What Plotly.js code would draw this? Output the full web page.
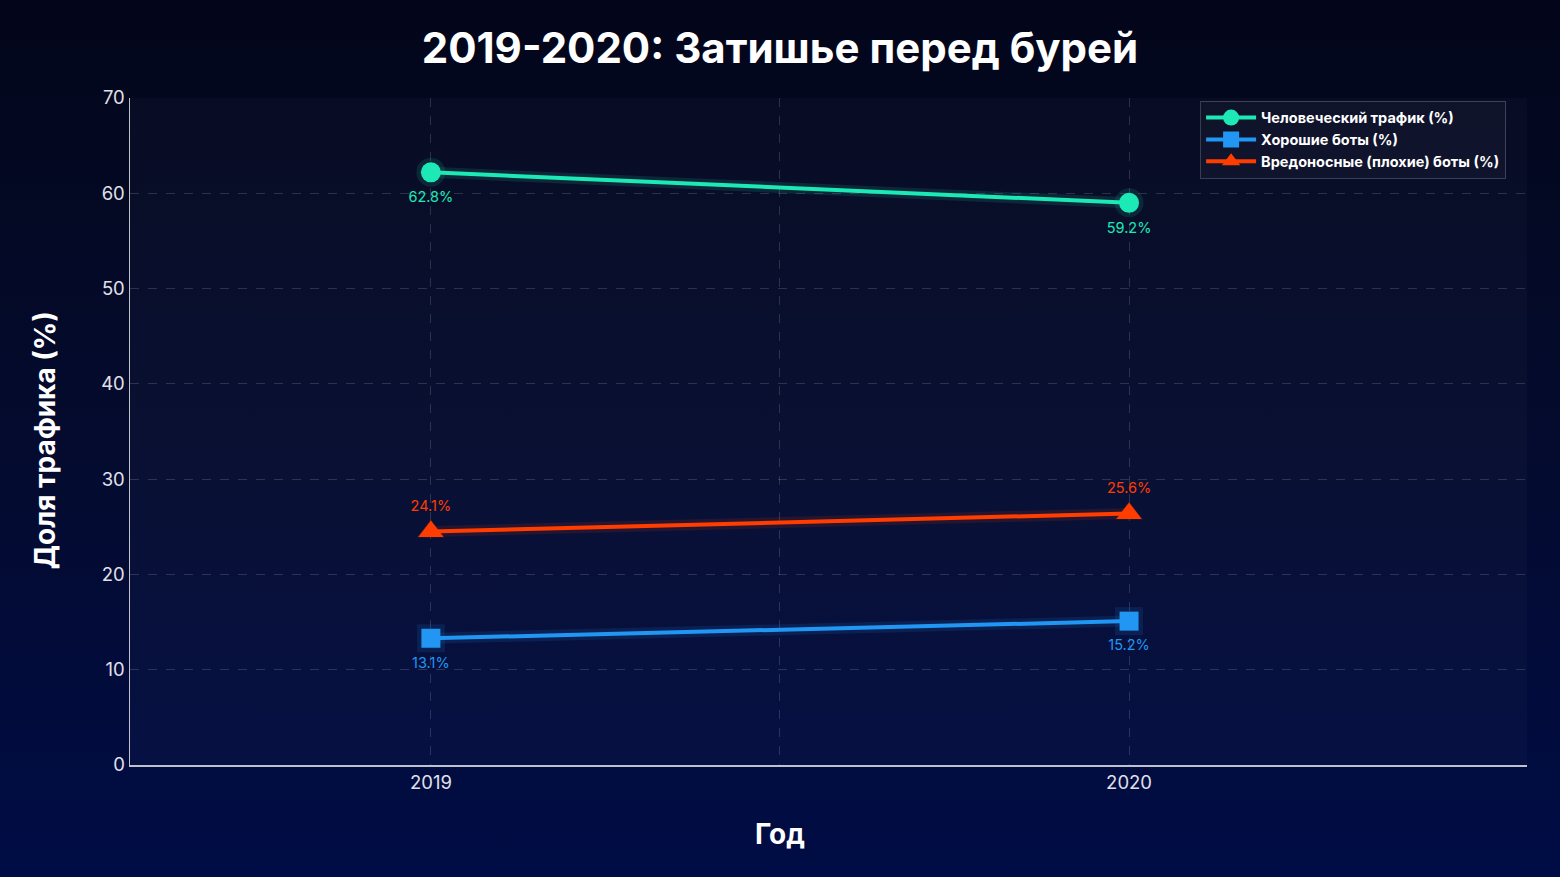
<!DOCTYPE html>
<html>
<head>
<meta charset="utf-8">
<script src="https://cdn.plot.ly/plotly-3.0.1.min.js"></script>
<style>
html,body{margin:0;padding:0;width:1560px;height:877px;overflow:hidden;
background:linear-gradient(180deg,#03061a 0%,#040b2e 50%,#000c45 100%);}
#chart{width:1560px;height:877px;}
</style>
</head>
<body>
<div id="chart"></div>
<script>
const years = [2019, 2020];
const seriesNames = ['Человеческий трафик (%)', 'Хорошие боты (%)', 'Вредоносные (плохие) боты (%)'];
const humanValues = [62.2, 59.0];
const goodBotValues = [13.3, 15.1];
const badBotValues = [24.5, 26.4];
const humanLabels = ['62.8%', '59.2%'];
const goodBotLabels = ['13.1%', '15.2%'];
const badBotLabels = ['24.1%', '25.6%'];
const xTickVals = [2019, 2019.5, 2020];
const xTickText = ['2019', '', '2020'];
const yTickVals = [0, 10, 20, 30, 40, 50, 60, 70];

const colors = ['#1de9b6', '#2196f3', '#ff3d00'];
const font = 'Inter, "Noto Sans", sans-serif';

function mk(name, y, color, symbol, size) {
  return {
    x: years, y: y, name: name, type: 'scatter', mode: 'lines+markers',
    line: {color: color, width: 4},
    marker: {color: color, size: size, symbol: symbol},
    cliponaxis: false
  };
}
function glow(y, labels, color, glowColor, size, symbol, pos) {
  return {x: years, y: y, type: 'scatter', mode: 'lines+markers+text', showlegend: false, hoverinfo: 'skip',
    text: labels, textposition: pos,
    textfont: {family: font, size: 14.5, color: color},
    line: {color: glowColor, width: 11}, marker: {color: glowColor, size: size, symbol: symbol}, cliponaxis: false};
}

const data = [
  glow(humanValues, humanLabels, colors[0], 'rgba(29,233,182,0.12)', 29, 'circle', 'bottom center'),
  glow(goodBotValues, goodBotLabels, colors[1], 'rgba(33,150,243,0.12)', 28, 'square', 'bottom center'),
  glow(badBotValues, badBotLabels, colors[2], 'rgba(255,61,0,0.12)', 25, 'triangle-up', 'top center'),
  mk(seriesNames[0], humanValues, colors[0], 'circle', 20),
  mk(seriesNames[1], goodBotValues, colors[1], 'square', 19),
  mk(seriesNames[2], badBotValues, colors[2], 'triangle-up', 22)
];

const layout = {
  width: 1560, height: 877,
  paper_bgcolor: 'rgba(0,0,0,0)',
  plot_bgcolor: 'rgba(255,255,255,0.025)',
  margin: {l: 130, r: 33, t: 98, b: 112},
  title: {text: '<b>2019-2020: Затишье перед бурей</b>', x: 0.5, xanchor: 'center', y: 0.945, yanchor: 'middle',
    font: {family: font, size: 42, color: '#ffffff'}},
  font: {family: font, color: '#e6e6ee'},
  xaxis: {
    range: [2018.569, 2020.57], tickvals: xTickVals, ticktext: xTickText,
    showgrid: true, gridcolor: 'rgba(255,255,255,0.15)', griddash: 'dash', gridwidth: 1,
    showline: true, linecolor: 'rgba(255,255,255,0.75)', linewidth: 1.5,
    zeroline: false, ticks: '', ticklen: 0,
    tickfont: {family: font, size: 18.5, color: '#e0e0ea'}
  },
  yaxis: {
    range: [0, 70], tickvals: yTickVals,
    showgrid: true, gridcolor: 'rgba(255,255,255,0.15)', griddash: 'dash', gridwidth: 1,
    showline: true, linecolor: 'rgba(255,255,255,0.75)', linewidth: 1.5,
    zeroline: false, ticks: '', ticklen: 0,
    tickfont: {family: font, size: 18.5, color: '#e0e0ea'}
  },
  annotations: [
    {text: '<b>Год</b>', xref: 'paper', yref: 'paper', x: 0.4653, y: -0.1035, xanchor: 'center', yanchor: 'middle',
     showarrow: false, font: {family: font, size: 28, color: '#ffffff'}},
    {text: '<b>Доля трафика (%)</b>', xref: 'paper', yref: 'paper', x: -0.0608, y: 0.487, xanchor: 'center', yanchor: 'middle',
     textangle: -90, showarrow: false, font: {family: font, size: 28, color: '#ffffff'}}
  ],
  legend: {
    x: 0.766, y: 0.996, xanchor: 'left', yanchor: 'top',
    bgcolor: 'rgba(255,255,255,0.03)', bordercolor: 'rgba(255,255,255,0.2)', borderwidth: 1,
    font: {family: font, size: 14.5, color: '#ffffff', weight: 'bold'},
    itemwidth: 50
  },
  showlegend: true
};

Plotly.newPlot('chart', data, layout, {displayModeBar: false, staticPlot: true});
</script>
</body>
</html>
